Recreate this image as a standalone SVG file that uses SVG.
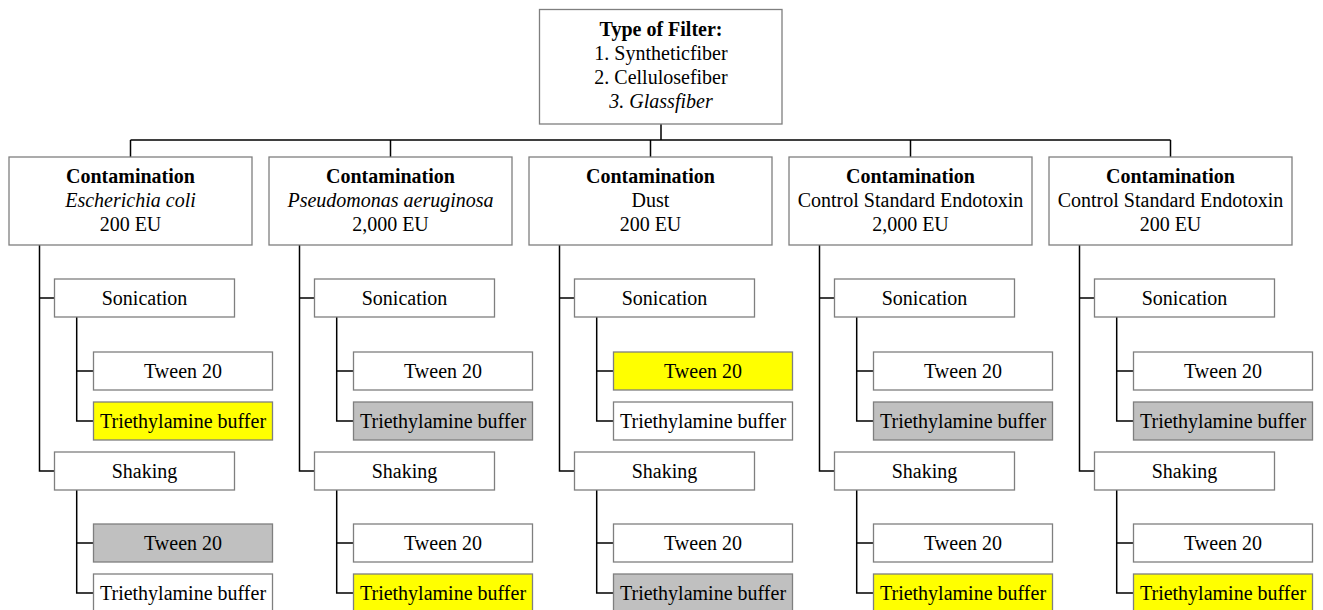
<svg xmlns="http://www.w3.org/2000/svg" width="1323" height="610" viewBox="0 0 1323 610">
<style>
.box{fill:#fff;stroke:#7f7f7f;stroke-width:1.3}
.y{fill:#ffff00}
.g{fill:#c0c0c0}
text{font-family:"Liberation Serif","Times New Roman",serif;font-size:20px;fill:#000;text-anchor:middle}
.b{font-weight:bold}
.i{font-style:italic}
.c{fill:none;stroke:#000;stroke-width:1.5}
</style>
<rect width="1323" height="610" fill="#fff"/>
<g id="connectors">
<path class="c" d="M661 124V140M130.5 140H1170.5M130.5 140V157M390.5 140V157M650.5 140V157M910.5 140V157M1170.5 140V157"/>
<g transform="translate(9,0)"><path class="c" d="M30.5 245V471H45.5M30.5 298H45.5M67.7 317V421H84.5M67.7 371H84.5M67.7 490V593H84.5M67.7 543H84.5"/></g>
<g transform="translate(269,0)"><path class="c" d="M30.5 245V471H45.5M30.5 298H45.5M67.7 317V421H84.5M67.7 371H84.5M67.7 490V593H84.5M67.7 543H84.5"/></g>
<g transform="translate(529,0)"><path class="c" d="M30.5 245V471H45.5M30.5 298H45.5M67.7 317V421H84.5M67.7 371H84.5M67.7 490V593H84.5M67.7 543H84.5"/></g>
<g transform="translate(789,0)"><path class="c" d="M30.5 245V471H45.5M30.5 298H45.5M67.7 317V421H84.5M67.7 371H84.5M67.7 490V593H84.5M67.7 543H84.5"/></g>
<g transform="translate(1049,0)"><path class="c" d="M30.5 245V471H45.5M30.5 298H45.5M67.7 317V421H84.5M67.7 371H84.5M67.7 490V593H84.5M67.7 543H84.5"/></g>
</g>
<g id="filter">
<rect class="box" x="539.5" y="9.5" width="242.5" height="114.5"/>
<text x="661" y="36" class="b">Type of Filter:</text>
<text x="661" y="60">1. Syntheticfiber</text>
<text x="661" y="84">2. Cellulosefiber</text>
<text x="661" y="108" class="i">3. Glassfiber</text>
</g>
<!-- Column 1 -->
<g transform="translate(9,0)">
<g id="c1"><rect class="box" x="0" y="157" width="243" height="88"/><text x="121.5" y="183" class="b">Contamination</text><text x="121.5" y="207" class="i">Escherichia coli</text><text x="121.5" y="231">200 EU</text></g>
<g id="c1-son"><rect class="box" x="45.5" y="279" width="180" height="38"/><text x="135.5" y="305">Sonication</text></g>
<g id="c1-son-tw"><rect class="box" x="84.5" y="352" width="179" height="38"/><text x="174" y="378">Tween 20</text></g>
<g id="c1-son-tr"><rect class="box y" x="84.5" y="402" width="179" height="38"/><text x="174" y="428">Triethylamine buffer</text></g>
<g id="c1-sha"><rect class="box" x="45.5" y="452" width="180" height="38"/><text x="135.5" y="478">Shaking</text></g>
<g id="c1-sha-tw"><rect class="box g" x="84.5" y="524" width="179" height="38"/><text x="174" y="550">Tween 20</text></g>
<g id="c1-sha-tr"><rect class="box" x="84.5" y="574" width="179" height="38"/><text x="174" y="600">Triethylamine buffer</text></g>
</g>
<!-- Column 2 -->
<g transform="translate(269,0)">
<g id="c2"><rect class="box" x="0" y="157" width="243" height="88"/><text x="121.5" y="183" class="b">Contamination</text><text x="121.5" y="207" class="i">Pseudomonas aeruginosa</text><text x="121.5" y="231">2,000 EU</text></g>
<g id="c2-son"><rect class="box" x="45.5" y="279" width="180" height="38"/><text x="135.5" y="305">Sonication</text></g>
<g id="c2-son-tw"><rect class="box" x="84.5" y="352" width="179" height="38"/><text x="174" y="378">Tween 20</text></g>
<g id="c2-son-tr"><rect class="box g" x="84.5" y="402" width="179" height="38"/><text x="174" y="428">Triethylamine buffer</text></g>
<g id="c2-sha"><rect class="box" x="45.5" y="452" width="180" height="38"/><text x="135.5" y="478">Shaking</text></g>
<g id="c2-sha-tw"><rect class="box" x="84.5" y="524" width="179" height="38"/><text x="174" y="550">Tween 20</text></g>
<g id="c2-sha-tr"><rect class="box y" x="84.5" y="574" width="179" height="38"/><text x="174" y="600">Triethylamine buffer</text></g>
</g>
<!-- Column 3 -->
<g transform="translate(529,0)">
<g id="c3"><rect class="box" x="0" y="157" width="243" height="88"/><text x="121.5" y="183" class="b">Contamination</text><text x="121.5" y="207">Dust</text><text x="121.5" y="231">200 EU</text></g>
<g id="c3-son"><rect class="box" x="45.5" y="279" width="180" height="38"/><text x="135.5" y="305">Sonication</text></g>
<g id="c3-son-tw"><rect class="box y" x="84.5" y="352" width="179" height="38"/><text x="174" y="378">Tween 20</text></g>
<g id="c3-son-tr"><rect class="box" x="84.5" y="402" width="179" height="38"/><text x="174" y="428">Triethylamine buffer</text></g>
<g id="c3-sha"><rect class="box" x="45.5" y="452" width="180" height="38"/><text x="135.5" y="478">Shaking</text></g>
<g id="c3-sha-tw"><rect class="box" x="84.5" y="524" width="179" height="38"/><text x="174" y="550">Tween 20</text></g>
<g id="c3-sha-tr"><rect class="box g" x="84.5" y="574" width="179" height="38"/><text x="174" y="600">Triethylamine buffer</text></g>
</g>
<!-- Column 4 -->
<g transform="translate(789,0)">
<g id="c4"><rect class="box" x="0" y="157" width="243" height="88"/><text x="121.5" y="183" class="b">Contamination</text><text x="121.5" y="207">Control Standard Endotoxin</text><text x="121.5" y="231">2,000 EU</text></g>
<g id="c4-son"><rect class="box" x="45.5" y="279" width="180" height="38"/><text x="135.5" y="305">Sonication</text></g>
<g id="c4-son-tw"><rect class="box" x="84.5" y="352" width="179" height="38"/><text x="174" y="378">Tween 20</text></g>
<g id="c4-son-tr"><rect class="box g" x="84.5" y="402" width="179" height="38"/><text x="174" y="428">Triethylamine buffer</text></g>
<g id="c4-sha"><rect class="box" x="45.5" y="452" width="180" height="38"/><text x="135.5" y="478">Shaking</text></g>
<g id="c4-sha-tw"><rect class="box" x="84.5" y="524" width="179" height="38"/><text x="174" y="550">Tween 20</text></g>
<g id="c4-sha-tr"><rect class="box y" x="84.5" y="574" width="179" height="38"/><text x="174" y="600">Triethylamine buffer</text></g>
</g>
<!-- Column 5 -->
<g transform="translate(1049,0)">
<g id="c5"><rect class="box" x="0" y="157" width="243" height="88"/><text x="121.5" y="183" class="b">Contamination</text><text x="121.5" y="207">Control Standard Endotoxin</text><text x="121.5" y="231">200 EU</text></g>
<g id="c5-son"><rect class="box" x="45.5" y="279" width="180" height="38"/><text x="135.5" y="305">Sonication</text></g>
<g id="c5-son-tw"><rect class="box" x="84.5" y="352" width="179" height="38"/><text x="174" y="378">Tween 20</text></g>
<g id="c5-son-tr"><rect class="box g" x="84.5" y="402" width="179" height="38"/><text x="174" y="428">Triethylamine buffer</text></g>
<g id="c5-sha"><rect class="box" x="45.5" y="452" width="180" height="38"/><text x="135.5" y="478">Shaking</text></g>
<g id="c5-sha-tw"><rect class="box" x="84.5" y="524" width="179" height="38"/><text x="174" y="550">Tween 20</text></g>
<g id="c5-sha-tr"><rect class="box y" x="84.5" y="574" width="179" height="38"/><text x="174" y="600">Triethylamine buffer</text></g>
</g>
</svg>
